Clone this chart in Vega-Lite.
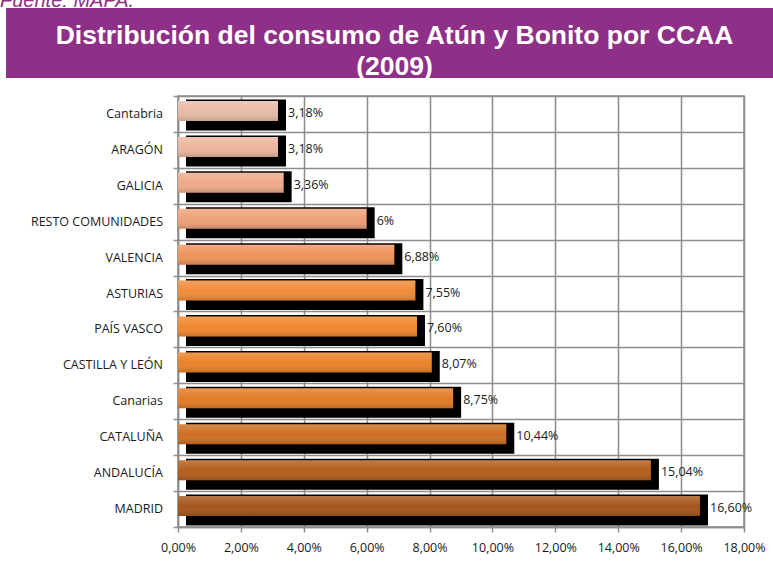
{
  "$schema": "https://vega.github.io/schema/vega-lite/v6.json",
  "padding": {"left": 0, "top": -9, "right": 0, "bottom": 0},
  "background": "white",
  "spacing": 18,
  "bounds": "flush",
  "title": {
    "text": "Fuente: MAPA.",
    "anchor": "start",
    "orient": "top",
    "frame": "bounds",
    "font": "Liberation Sans",
    "fontStyle": "italic",
    "fontWeight": "normal",
    "fontSize": 20,
    "color": "#8E3087",
    "baseline": "alphabetic",
    "offset": -19,
    "dx": -6
  },
  "config": {"view": {"stroke": null}, "font": "Open Sans"},
  "datasets": {
    "consumo": [
      {"ccaa": "Cantabria", "pct": 3.18, "etiqueta": "3,18%"},
      {"ccaa": "ARAGÓN", "pct": 3.18, "etiqueta": "3,18%"},
      {"ccaa": "GALICIA", "pct": 3.36, "etiqueta": "3,36%"},
      {"ccaa": "RESTO COMUNIDADES", "pct": 6.0, "etiqueta": "6%"},
      {"ccaa": "VALENCIA", "pct": 6.88, "etiqueta": "6,88%"},
      {"ccaa": "ASTURIAS", "pct": 7.55, "etiqueta": "7,55%"},
      {"ccaa": "PAÍS VASCO", "pct": 7.6, "etiqueta": "7,60%"},
      {"ccaa": "CASTILLA Y LEÓN", "pct": 8.07, "etiqueta": "8,07%"},
      {"ccaa": "Canarias", "pct": 8.75, "etiqueta": "8,75%"},
      {"ccaa": "CATALUÑA", "pct": 10.44, "etiqueta": "10,44%"},
      {"ccaa": "ANDALUCÍA", "pct": 15.04, "etiqueta": "15,04%"},
      {"ccaa": "MADRID", "pct": 16.6, "etiqueta": "16,60%"}
    ]
  },
  "vconcat": [
    {
      "width": 767,
      "height": 70,
      "view": {"fill": "#8E3087", "stroke": null},
      "data": {"values": [{"titulo": "Distribución del consumo de Atún y Bonito por CCAA\n(2009)"}]},
      "mark": {
        "type": "text",
        "lineBreak": "\n",
        "font": "Liberation Sans",
        "fontWeight": "bold",
        "fontSize": 26.5,
        "lineHeight": 31,
        "color": "white",
        "align": "center",
        "baseline": "alphabetic",
        "dx": 5,
        "dy": 1
      },
      "encoding": {"text": {"field": "titulo", "type": "nominal"}}
    },
    {
      "bounds": "flush",
      "spacing": 0,
      "hconcat": [
        {
          "width": 172,
          "height": 431,
          "data": {"name": "consumo"},
          "mark": {"type": "text", "align": "right", "baseline": "middle", "x": "width", "dx": -15, "fontSize": 12.5, "font": "Open Sans", "color": "#1a1a1a"},
          "encoding": {
            "y": {
              "field": "ccaa",
              "type": "nominal",
              "sort": null,
              "scale": {"paddingInner": 0, "paddingOuter": 0},
              "axis": null
            },
            "text": {"field": "ccaa", "type": "nominal"}
          }
        },
        {
          "width": 566,
          "height": 431,
          "data": {"name": "consumo"},
          "view": {"stroke": "#8c8c8c", "strokeWidth": 1.5},
          "encoding": {
            "y": {
              "field": "ccaa",
              "type": "nominal",
              "sort": null,
              "scale": {"paddingInner": 0, "paddingOuter": 0},
              "axis": {
                "title": null,
                "labels": false,
                "tickBand": "extent",
                "grid": true,
                "gridColor": "#8c8c8c",
                "gridWidth": 1.5,
                "domainColor": "#8c8c8c",
                "domainWidth": 1.5,
                "tickColor": "#8c8c8c",
                "tickWidth": 1.5,
                "tickSize": 5
              }
            },
            "x": {
              "field": "pct",
              "type": "quantitative",
              "scale": {"domain": [0, 18], "nice": false},
              "axis": {
                "title": null,
                "values": [0, 2, 4, 6, 8, 10, 12, 14, 16, 18],
                "labelExpr": "replace(format(datum.value, '.2f'), '.', ',') + '%'",
                "labelOverlap": false,
                "labelBound": false,
                "labelFlush": false,
                "grid": true,
                "gridColor": "#8c8c8c",
                "gridWidth": 1.5,
                "domainColor": "#8c8c8c",
                "domainWidth": 1.5,
                "tickColor": "#8c8c8c",
                "tickWidth": 1.5,
                "tickSize": 5,
                "labelPadding": 9,
                "labelFontSize": 12.5,
                "labelColor": "#1a1a1a",
                "labelFont": "Open Sans"
              }
            }
          },
          "layer": [
            {
              "mark": {"type": "bar", "color": "black", "height": 31, "yOffset": 1, "xOffset": 8}
            },
            {
              "mark": {"type": "bar", "height": 20, "yOffset": -3},
              "encoding": {
                "color": {
                  "field": "ccaa",
                  "type": "nominal",
                  "sort": null,
                  "legend": null,
                  "scale": {
                    "domain": ["Cantabria", "ARAGÓN", "GALICIA", "RESTO COMUNIDADES", "VALENCIA", "ASTURIAS", "PAÍS VASCO", "CASTILLA Y LEÓN", "Canarias", "CATALUÑA", "ANDALUCÍA", "MADRID"],
                    "range": ["#E8BBA8", "#EDB69E", "#EEAA8A", "#EFA077", "#EE955C", "#F08C38", "#F0882C", "#EA8228", "#E27C27", "#CE6F23", "#B45E1E", "#A6561C"]
                  }
                }
              }
            },
            {
              "mark": {
                "type": "bar",
                "height": 20,
                "yOffset": -3,
                "color": {
                  "gradient": "linear",
                  "x1": 0, "y1": 0, "x2": 0, "y2": 1,
                  "stops": [
                    {"offset": 0, "color": "rgba(255,255,255,0.2)"},
                    {"offset": 0.5, "color": "rgba(255,255,255,0)"},
                    {"offset": 1, "color": "rgba(0,0,0,0.16)"}
                  ]
                }
              }
            },
            {
              "mark": {"type": "text", "align": "left", "baseline": "middle", "dx": 10, "dy": -1, "fontSize": 12.5, "font": "Open Sans", "color": "#1a1a1a"},
              "encoding": {"text": {"field": "etiqueta", "type": "nominal"}}
            }
          ]
        }
      ]
    }
  ]
}
